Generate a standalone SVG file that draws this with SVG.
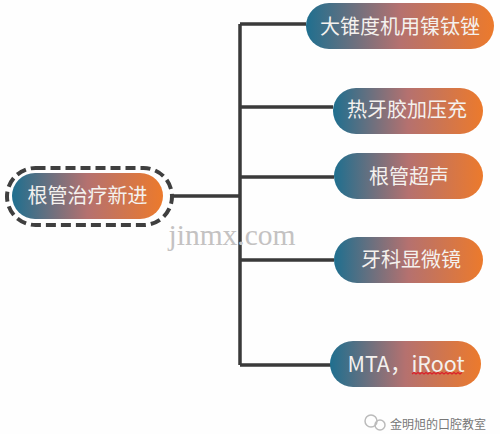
<svg xmlns="http://www.w3.org/2000/svg" width="500" height="434" viewBox="0 0 500 434">
<defs>
<linearGradient id="g" x1="0" y1="0" x2="1" y2="0"><stop offset="0" stop-color="#1f6f8f"/><stop offset="0.5" stop-color="#b5716f"/><stop offset="1" stop-color="#ec7a2c"/></linearGradient>
</defs>
<style>
.p{fill:url(#g)}
.t{fill:#f4f1ee;font-family:"Noto Sans CJK SC","Liberation Sans",sans-serif;font-size:20px;text-anchor:middle;dominant-baseline:central}
.c{stroke:#3a3a3a;stroke-width:3.5;fill:none}
</style>
<rect width="500" height="434" fill="#fefefe"/>
<g id="connectors">
<path class="c" d="M240 24V365M240 24H306M240 107H333M240 177H334M240 260H334M240 365H332M172 196H240"/>
</g>
<text x="232" y="245" font-family="Liberation Serif,serif" font-size="29.500" fill="#c4c2c2" text-anchor="middle">jinmx.com</text>
<g id="root">
<rect x="7" y="168" width="165" height="57" rx="28.500" fill="none" stroke="#3f3f3f" stroke-width="4" stroke-dasharray="10 5"/>
<rect class="p" x="12" y="173" width="151" height="46" rx="23"/>
<text class="t" x="87.500" y="194">根管治疗新进</text>
</g>
<g id="n1"><rect class="p" x="306" y="3" width="188" height="46" rx="23"/><text class="t" x="400" y="25">大锥度机用镍钛锉</text></g>
<g id="n2"><rect class="p" x="333" y="88" width="150" height="46" rx="23"/><text class="t" x="407" y="108">热牙胶加压充</text></g>
<g id="n3"><rect class="p" x="334" y="153" width="149" height="46" rx="23"/><text class="t" x="409" y="175">根管超声</text></g>
<g id="n4"><rect class="p" x="334" y="237" width="149" height="46" rx="23"/><text class="t" x="411" y="258">牙科显微镜</text></g>
<g id="n5"><rect class="p" x="330" y="341" width="151" height="46" rx="23"/><text class="t" x="406" y="362" style="font-size:21.500px">MTA，iRoot</text>
<path d="M412 374l2 -1.500l2 1.500l2 -1.500l2 1.500l2 -1.500l2 1.500l2 -1.500l2 1.500l2 -1.500l2 1.500l2 -1.500l2 1.500l2 -1.500l2 1.500l2 -1.500l2 1.500l2 -1.500l2 1.500l2 -1.500l2 1.500l2 -1.500l2 1.500l2 -1.500l2 1.500l2 -1.500" fill="none" stroke="#dc1f2a" stroke-width="1.100"/></g>
<g id="caption">
<circle cx="371" cy="421" r="6" fill="none" stroke="#bbb" stroke-width="1.500"/><circle cx="380" cy="425" r="5" fill="none" stroke="#bbb" stroke-width="1.500"/>
<text x="438" y="429" font-family="Noto Sans CJK SC,sans-serif" font-size="12" fill="#777" text-anchor="middle">金明旭的口腔教室</text></g>
</svg>
